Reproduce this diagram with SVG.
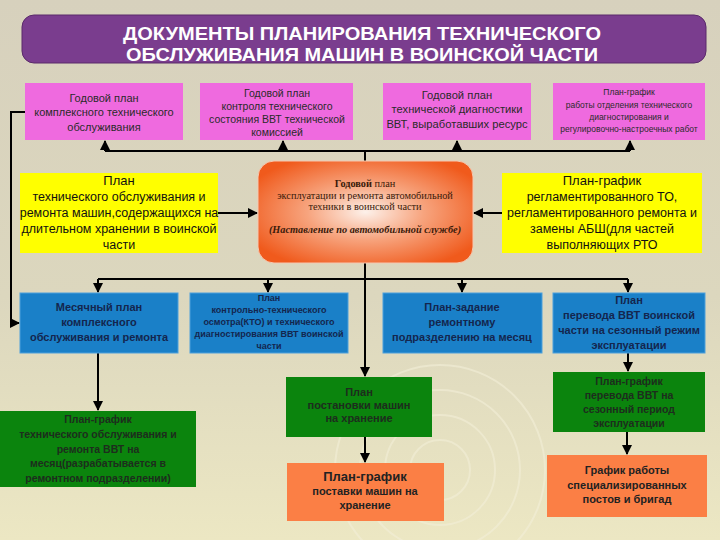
<svg xmlns="http://www.w3.org/2000/svg" width="720" height="540" viewBox="0 0 720 540">
<defs>
<linearGradient id="bg" x1="0" y1="0" x2="0" y2="1">
<stop offset="0" stop-color="#d7d1bd"/>
<stop offset="0.55" stop-color="#dcd7be"/>
<stop offset="1" stop-color="#ece7c3"/>
</linearGradient>
<radialGradient id="cg" cx="0.5" cy="0.5" r="0.6">
<stop offset="0" stop-color="#fdf1ea"/>
<stop offset="0.45" stop-color="#f7a47e"/>
<stop offset="1" stop-color="#f05a1c"/>
</radialGradient>
<marker id="ah" viewBox="0 0 10 10" refX="9" refY="5" markerWidth="5" markerHeight="5" orient="auto" markerUnits="strokeWidth">
<path d="M0,0 L10,5 L0,10 z" fill="#000"/>
</marker>
</defs>
<style>
.ln{stroke:#000;stroke-width:2;fill:none}
.pk{fill:#ef6adf}
.yl{fill:#ffff00}
.bl{fill:#1a80c8;stroke:#4da0dc;stroke-width:1}
.gr{fill:#0b840d}
.or{fill:#fb7f45}
text{font-family:"Liberation Sans",Arial,sans-serif;text-anchor:middle}
.tp{font-size:11px;fill:#2a2a2a}
.tp2{font-size:10.5px;fill:#2a2a2a}
.tp3{font-size:11.2px;fill:#2a2a2a}
.tp4{font-size:8.5px;fill:#2a2a2a}
.ty{font-size:12.5px;fill:#111}
.tb{font-size:11px;fill:#14264e;font-weight:bold}
.tb9{font-size:9px;fill:#14264e;font-weight:bold}
.tg{font-size:10.5px;fill:#1d2d1d;font-weight:bold}
.tg11{font-size:11px;fill:#1d2d1d;font-weight:bold}
.to{font-size:11px;fill:#222;font-weight:bold}
.tc{font-family:"Liberation Serif","Times New Roman",serif;font-size:10.3px;fill:#3a1a0a}
.big{font-size:13px}
</style>
<rect width="720" height="540" fill="url(#bg)"/>
<g fill="none" stroke="#f3efd8" stroke-width="2" opacity="0.6">
<circle cx="440" cy="470" r="30"/>
<circle cx="440" cy="470" r="55"/>
<circle cx="440" cy="470" r="80"/>
<circle cx="440" cy="470" r="105"/>
</g>
<g id="title">
<rect x="22" y="15" width="684" height="48" rx="12" fill="#7a3d8e" stroke="#5a2a6a" stroke-width="1"/>
<text x="362" y="40" font-size="19" font-weight="bold" fill="#ffffff" textLength="478" lengthAdjust="spacingAndGlyphs">ДОКУМЕНТЫ ПЛАНИРОВАНИЯ ТЕХНИЧЕСКОГО</text>
<text x="362" y="61" font-size="19" font-weight="bold" fill="#ffffff" textLength="472" lengthAdjust="spacingAndGlyphs">ОБСЛУЖИВАНИЯ МАШИН В ВОИНСКОЙ ЧАСТИ</text>
</g>
<g id="connectors">
<line class="ln" x1="365" y1="151" x2="365" y2="161"/>
<line class="ln" x1="105" y1="151" x2="630" y2="151"/>
<line class="ln" x1="105" y1="151" x2="105" y2="141" marker-end="url(#ah)"/>
<line class="ln" x1="283" y1="151" x2="283" y2="141" marker-end="url(#ah)"/>
<line class="ln" x1="457" y1="151" x2="457" y2="141" marker-end="url(#ah)"/>
<line class="ln" x1="630" y1="151" x2="630" y2="141" marker-end="url(#ah)"/>
<polyline class="ln" points="25,112 11,112 11,323 19,323" marker-end="url(#ah)"/>
<line class="ln" x1="218" y1="213" x2="257" y2="213" marker-end="url(#ah)"/>
<line class="ln" x1="502" y1="213" x2="474" y2="213" marker-end="url(#ah)"/>
<line class="ln" x1="365" y1="263" x2="365" y2="376" marker-end="url(#ah)"/>
<line class="ln" x1="98" y1="279" x2="628" y2="279"/>
<line class="ln" x1="98" y1="279" x2="98" y2="292" marker-end="url(#ah)"/>
<line class="ln" x1="268" y1="279" x2="268" y2="292" marker-end="url(#ah)"/>
<line class="ln" x1="462" y1="279" x2="462" y2="292" marker-end="url(#ah)"/>
<line class="ln" x1="628" y1="279" x2="628" y2="292" marker-end="url(#ah)"/>
<line class="ln" x1="98" y1="353" x2="98" y2="410" marker-end="url(#ah)"/>
<line class="ln" x1="628" y1="353" x2="628" y2="371" marker-end="url(#ah)"/>
<line class="ln" x1="365" y1="437" x2="365" y2="462" marker-end="url(#ah)"/>
<line class="ln" x1="627" y1="432" x2="627" y2="454" marker-end="url(#ah)"/>
</g>
<g id="n1">
<rect class="pk" x="25" y="83" width="158" height="57"/>
<text class="tp" x="104" y="102">Годовой план</text>
<text class="tp" x="104" y="116">комплексного технического</text>
<text class="tp" x="104" y="131">обслуживания</text>
</g>
<g id="n2">
<rect class="pk" x="200" y="83" width="153" height="57"/>
<text class="tp2" x="277" y="97">Годовой план</text>
<text class="tp2" x="277" y="110">контроля технического</text>
<text class="tp2" x="277" y="123">состояния ВВТ технической</text>
<text class="tp2" x="277" y="136">комиссией</text>
</g>
<g id="n3">
<rect class="pk" x="383" y="83" width="148" height="57"/>
<text class="tp3" x="457" y="99">Годовой план</text>
<text class="tp3" x="457" y="113">технической диагностики</text>
<text class="tp3" x="457" y="128">ВВТ, выработавших ресурс</text>
</g>
<g id="n4">
<rect class="pk" x="553" y="83" width="152" height="57"/>
<text class="tp4" x="629" y="95">План-график</text>
<text class="tp4" x="629" y="108">работы отделения технического</text>
<text class="tp4" x="629" y="120">диагностирования и</text>
<text class="tp4" x="629" y="132">регулировочно-настроечных работ</text>
</g>
<g id="n5">
<rect class="yl" x="20" y="173" width="198" height="80"/>
<text class="ty big" x="119" y="185">План</text>
<text class="ty" x="119" y="201">технического обслуживания и</text>
<text class="ty" x="119" y="217">ремонта машин,содержащихся на</text>
<text class="ty" x="119" y="233">длительном хранении в воинской</text>
<text class="ty" x="119" y="249">части</text>
</g>
<g id="n6">
<rect x="258" y="161" width="215" height="102" rx="16" fill="url(#cg)" stroke="#f6c8b0" stroke-width="1"/>
<text class="tc" x="365" y="187"><tspan font-weight="bold">Годовой</tspan> план</text>
<text class="tc" x="365" y="199">эксплуатации и ремонта автомобильной</text>
<text class="tc" x="365" y="210">техники в воинской части</text>
<text class="tc" x="365" y="233" font-weight="bold" font-style="italic">(Наставление по автомобильной службе)</text>
</g>
<g id="n7">
<rect class="yl" x="502" y="173" width="200" height="80"/>
<text class="ty big" x="602" y="185">План-график</text>
<text class="ty" x="602" y="201">регламентированного ТО,</text>
<text class="ty" x="602" y="217">регламентированного ремонта и</text>
<text class="ty" x="602" y="233">замены АБШ(для частей</text>
<text class="ty" x="602" y="249">выполняющих РТО</text>
</g>
<g id="n8">
<rect class="bl" x="20" y="293" width="158" height="60"/>
<text class="tb" x="99" y="311">Месячный план</text>
<text class="tb" x="99" y="326">комплексного</text>
<text class="tb" x="99" y="341">обслуживания и ремонта</text>
</g>
<g id="n9">
<rect class="bl" x="190" y="293" width="158" height="60"/>
<text class="tb9" x="269" y="301">План</text>
<text class="tb9" x="269" y="313">контрольно-технического</text>
<text class="tb9" x="269" y="325">осмотра(КТО) и технического</text>
<text class="tb9" x="269" y="337">диагностирования ВВТ воинской</text>
<text class="tb9" x="269" y="349">части</text>
</g>
<g id="n10">
<rect class="bl" x="383" y="293" width="159" height="60"/>
<text class="tb" x="462" y="311">План-задание</text>
<text class="tb" x="462" y="326">ремонтному</text>
<text class="tb" x="462" y="341">подразделению на месяц</text>
</g>
<g id="n11">
<rect class="bl" x="553" y="293" width="152" height="60"/>
<text class="tb" x="629" y="304">План</text>
<text class="tb" x="629" y="319">перевода ВВТ воинской</text>
<text class="tb" x="629" y="334">части на сезонный режим</text>
<text class="tb" x="629" y="349">эксплуатации</text>
</g>
<g id="n12">
<rect class="gr" x="0" y="411" width="196" height="76"/>
<text class="tg" x="98" y="423">План-график</text>
<text class="tg" x="98" y="438">технического обслуживания и</text>
<text class="tg" x="98" y="453">ремонта ВВТ на</text>
<text class="tg" x="98" y="467">месяц(разрабатывается в</text>
<text class="tg" x="98" y="482">ремонтном подразделении)</text>
</g>
<g id="n13">
<rect class="gr" x="286" y="377" width="146" height="60"/>
<text class="tg11" x="359" y="396">План</text>
<text class="tg11" x="359" y="409">постановки машин</text>
<text class="tg11" x="359" y="422">на хранение</text>
</g>
<g id="n14">
<rect class="gr" x="553" y="372" width="152" height="60"/>
<text class="tg" x="629" y="385">План-график</text>
<text class="tg" x="629" y="399">перевода ВВТ на</text>
<text class="tg" x="629" y="413">сезонный период</text>
<text class="tg" x="629" y="427">эксплуатации</text>
</g>
<g id="n15">
<rect class="or" x="287" y="463" width="157" height="58"/>
<text class="to big" x="365" y="481">План-график</text>
<text class="to" x="365" y="495">поставки машин на</text>
<text class="to" x="365" y="509">хранение</text>
</g>
<g id="n16">
<rect class="or" x="547" y="455" width="160" height="62"/>
<text class="to" x="627" y="474">График работы</text>
<text class="to" x="627" y="489">специализированных</text>
<text class="to" x="627" y="503">постов и бригад</text>
</g>
</svg>
